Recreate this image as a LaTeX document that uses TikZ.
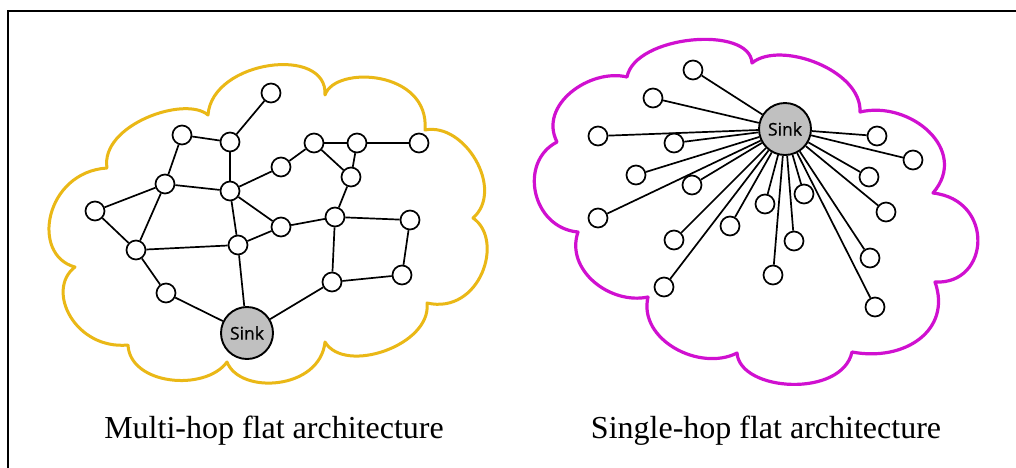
\documentclass[tikz,border=0pt]{standalone}
\usepackage{fontspec}
\setmainfont{Liberation Serif}
\newfontfamily\sinkfont[FakeBold=0.8]{Open Sans}
\definecolor{cloudyellow}{RGB}{234,184,22}
\definecolor{cloudmagenta}{RGB}{208,16,208}
\definecolor{sinkgray}{RGB}{192,192,192}
\begin{document}
\begin{tikzpicture}[x=1pt,y=-1pt,
  nd/.style={circle,draw=black,line width=1.7pt,fill=white,minimum size=19pt,inner sep=0pt},
  sinknode/.style={circle,draw=black,line width=1.9pt,fill=sinkgray,minimum size=52pt,inner sep=0pt,font=\sinkfont\fontsize{17.5}{20}\selectfont},
  link/.style={draw=black,line width=1.7pt},
  ycloud/.style={draw=cloudyellow,line width=3pt,line join=round},
  mcloud/.style={draw=cloudmagenta,line width=3.2pt,line join=round},
  caption/.style={font=\fontsize{32}{38}\selectfont,anchor=base,inner sep=0pt}]
\useasboundingbox (0,0) rectangle (1016,467);
\fill[white] (0,0) rectangle (1016,467);
% frame
\draw[line width=2pt,black] (8,468) -- (8,11) -- (1017,11);
% clouds
\draw[ycloud] (107,168) .. controls (100,125) and (185,95) .. (208,115)
 .. controls (212,60) and (328,45) .. (325,95)
 .. controls (335,65) and (430,70) .. (425,130)
 .. controls (465,122) and (505,190) .. (473,218)
 .. controls (505,240) and (480,315) .. (427,303)
 .. controls (432,345) and (345,375) .. (325,342)
 .. controls (320,390) and (240,395) .. (227,362)
 .. controls (205,392) and (130,385) .. (128,345)
 .. controls (75,350) and (45,290) .. (75,267)
 .. controls (30,255) and (45,172) .. (107,168) -- cycle;
\draw[mcloud] (557,142) .. controls (538,105) and (590,68) .. (627,77)
 .. controls (635,35) and (750,25) .. (752,63)
 .. controls (780,40) and (862,70) .. (860,112)
 .. controls (910,100) and (970,150) .. (933,193)
 .. controls (995,200) and (990,285) .. (935,282)
 .. controls (952,330) and (905,362) .. (852,352)
 .. controls (842,398) and (740,392) .. (737,353)
 .. controls (700,372) and (638,340) .. (648,297)
 .. controls (610,305) and (565,270) .. (578,232)
 .. controls (532,228) and (518,162) .. (557,142) -- cycle;
% left network nodes
\node[nd] (A) at (271,93) {};
\node[nd] (B) at (182,135) {};
\node[nd] (C) at (230,142) {};
\node[nd] (D) at (314,143) {};
\node[nd] (E) at (357,143) {};
\node[nd] (F) at (419,143) {};
\node[nd] (G) at (165,184) {};
\node[nd] (H) at (230,191) {};
\node[nd] (I) at (281,167) {};
\node[nd] (J) at (351,177) {};
\node[nd] (K) at (95,211) {};
\node[nd] (L) at (281,227) {};
\node[nd] (M) at (335,217) {};
\node[nd] (N) at (410,220) {};
\node[nd] (O) at (136,250) {};
\node[nd] (P) at (238,245) {};
\node[nd] (Q) at (166,293) {};
\node[nd] (R) at (332,282) {};
\node[nd] (S) at (402,275) {};
\node[sinknode] (SL) at (247,333) {Sink};
\foreach \u/\v in {A/C,B/C,B/G,C/H,G/H,K/G,G/O,K/O,H/I,I/D,D/E,E/F,D/J,E/J,J/M,H/L,H/P,L/P,L/M,M/N,N/S,M/R,R/S,O/P,O/Q,Q/SL,P/SL,R/SL}
  \draw[link] (\u) -- (\v);
% right network
\node[sinknode] (SR) at (785,129) {Sink};
\node[nd] (r1) at (693,70) {};
\node[nd] (r2) at (653,98) {};
\node[nd] (r3) at (598,136) {};
\node[nd] (r4) at (674,143) {};
\node[nd] (r5) at (636,175) {};
\node[nd] (r6) at (692,185) {};
\node[nd] (r7) at (598,218) {};
\node[nd] (r8) at (877,136) {};
\node[nd] (r9) at (913,160) {};
\node[nd] (r10) at (869,177) {};
\node[nd] (r11) at (886,212) {};
\node[nd] (r12) at (804,194) {};
\node[nd] (r13) at (765,204) {};
\node[nd] (r14) at (730,226) {};
\node[nd] (r15) at (674,240) {};
\node[nd] (r16) at (794,241) {};
\node[nd] (r17) at (870,258) {};
\node[nd] (r18) at (773,275) {};
\node[nd] (r19) at (664,287) {};
\node[nd] (r20) at (875,307) {};
\foreach \v in {r1,r2,r3,r4,r5,r6,r7,r8,r9,r10,r11,r12,r13,r14,r15,r16,r17,r18,r19,r20}
  \draw[link] (SR) -- (\v);
% captions
\node[caption] (capL) at (274,438) {Multi-hop flat architecture};
\node[caption] (capR) at (766,438) {Single-hop flat architecture};
\end{tikzpicture}
\end{document}
